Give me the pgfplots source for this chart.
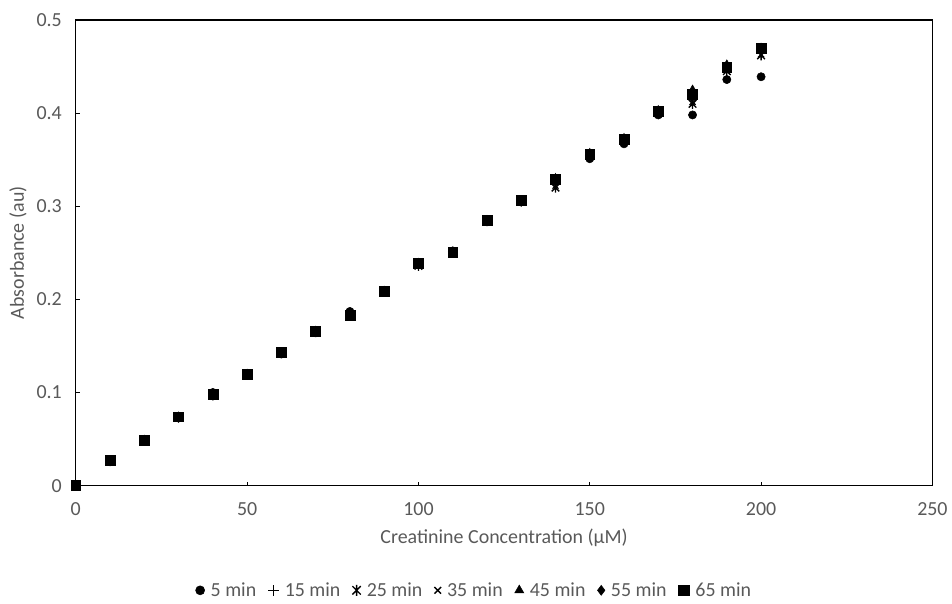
\documentclass[border=0pt]{standalone}
\usepackage{pgfplots}
\pgfplotsset{compat=1.18}
\usepackage{fontspec}
\setmainfont{Carlito}
\usetikzlibrary{calc}
\definecolor{txt}{HTML}{595959}

% Excel-style star: an x with a vertical stroke through it
\pgfdeclareplotmark{xstar}{%
  \pgfpathmoveto{\pgfqpoint{-0.75\pgfplotmarksize}{-0.75\pgfplotmarksize}}%
  \pgfpathlineto{\pgfqpoint{0.75\pgfplotmarksize}{0.75\pgfplotmarksize}}%
  \pgfpathmoveto{\pgfqpoint{-0.75\pgfplotmarksize}{0.75\pgfplotmarksize}}%
  \pgfpathlineto{\pgfqpoint{0.75\pgfplotmarksize}{-0.75\pgfplotmarksize}}%
  \pgfpathmoveto{\pgfqpoint{0pt}{-\pgfplotmarksize}}%
  \pgfpathlineto{\pgfqpoint{0pt}{\pgfplotmarksize}}%
  \pgfusepathqstroke}

\pgfplotstableread{
x    m5    m15   m25   m35   m45   m55   m65
0    0     0     0     0     0     0     0
10   0.026 0.027 0.027 0.027 0.027 0.026 0.027
20   0.048 0.048 0.048 0.048 0.049 0.048 0.049
30   0.074 0.074 0.073 0.073 0.074 0.073 0.074
40   0.100 0.098 0.097 0.098 0.099 0.098 0.098
50   0.119 0.120 0.119 0.119 0.120 0.119 0.120
60   0.144 0.143 0.142 0.143 0.143 0.143 0.143
70   0.166 0.166 0.165 0.165 0.166 0.165 0.166
80   0.187 0.184 0.183 0.183 0.184 0.183 0.183
90   0.208 0.209 0.208 0.208 0.209 0.208 0.209
100  0.237 0.238 0.236 0.237 0.239 0.238 0.239
110  0.252 0.251 0.250 0.250 0.251 0.251 0.251
120  0.284 0.285 0.284 0.284 0.285 0.284 0.285
130  0.306 0.306 0.305 0.305 0.306 0.306 0.306
140  0.327 0.325 0.320 0.322 0.330 0.328 0.329
150  0.351 0.354 0.354 0.355 0.357 0.355 0.356
160  0.367 0.370 0.370 0.371 0.373 0.371 0.372
170  0.398 0.401 0.400 0.400 0.403 0.401 0.402
180  0.398 0.418 0.410 0.412 0.425 0.421 0.420
190  0.436 0.448 0.445 0.446 0.452 0.449 0.449
200  0.439 0.466 0.462 0.463 0.470 0.469 0.470
}\absdata

\begin{document}
\begin{tikzpicture}[font=\fontsize{15}{18}\selectfont]
\begin{axis}[
  name=ax,
  scale only axis,
  width=644.25pt, height=350.25pt,
  xmin=0, xmax=250, ymin=0, ymax=0.5,
  xtick={0,50,...,250}, ytick={0,0.1,...,0.5},
  yticklabel style={/pgf/number format/fixed, /pgf/number format/precision=1},
  /pgf/number format/assume math mode=true,
  tick align=inside, major tick length=3pt,
  xtick pos=left, ytick pos=left,
  axis line style={black, line width=0.9pt},
  tick style={black, line width=0.8pt},
  ticklabel style={text=txt, font=\fontsize{15}{18}\selectfont},
  xticklabel style={yshift=-9pt},
  yticklabel style={xshift=-7pt},
  xlabel={Creatinine Concentration (µM)},
  ylabel={Absorbance (au)},
  label style={text=txt},
  xlabel style={at={(axis description cs:0.5,-0.1113)}, anchor=center},
  ylabel style={at={(axis description cs:-0.0675,0.5)}, anchor=center, rotate=0},
  legend columns=7,
  legend style={draw=none, fill=none, text=txt,
    at={(axis description cs:0.4657,-0.2248)}, anchor=center,
    /tikz/every even column/.append style={column sep=7pt},
    /tikz/every odd column/.append style={column sep=2.5pt},
    font=\fontsize{15}{18}\selectfont},
  legend image post style={scale=1.1},
  legend cell align=left,
  clip=false,
]
\addplot[only marks, mark=*, mark size=3.1pt, black] table[x=x, y=m5] {\absdata};
\addlegendentry{5 min}
\addplot[only marks, mark=+, mark size=3.6pt, line width=1pt, black] table[x=x, y=m15] {\absdata};
\addlegendentry{15 min}
\addplot[only marks, mark=xstar, mark size=3.8pt, line width=1pt, black] table[x=x, y=m25] {\absdata};
\addlegendentry{25 min}
\addplot[only marks, mark=x, mark size=3.2pt, line width=1pt, black] table[x=x, y=m35] {\absdata};
\addlegendentry{35 min}
\addplot[only marks, mark=triangle*, mark size=3.6pt, black] table[x=x, y=m45] {\absdata};
\addlegendentry{45 min}
\addplot[only marks, mark=diamond*, mark size=3.4pt, black] table[x=x, y=m55] {\absdata};
\addlegendentry{55 min}
\addplot[only marks, mark=square*, mark size=3.7pt, black] table[x=x, y=m65] {\absdata};
\addlegendentry{65 min}
\end{axis}
\path[use as bounding box] ($(ax.south west)+(-57pt,-85.5pt)$) rectangle ($(ax.north east)+(12.75pt,15pt)$);
\end{tikzpicture}
\end{document}
